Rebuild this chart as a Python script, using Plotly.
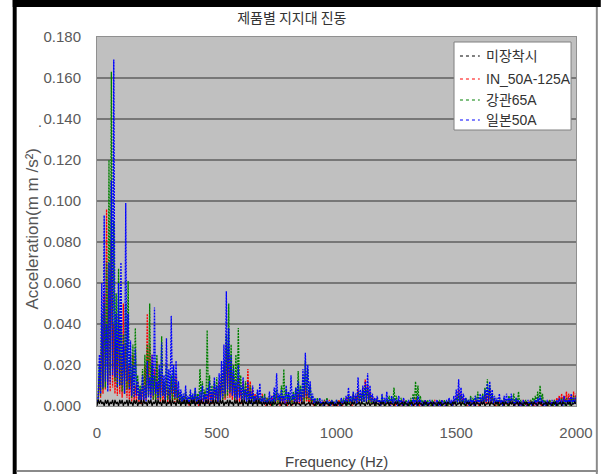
import numpy as np
import plotly.graph_objects as go

# Frequency axis: 0 .. 2000 Hz in 5 Hz bins
freq = np.arange(0, 2001, 5)

# Acceleration amplitudes in units of 0.001 mm/s^2 (one row = 100 Hz)
no_mount = [
    0, 3, 1, 3, 1, 2, 0, 3, 1, 3, 0, 2, 1, 3, 0, 3, 1, 2, 0, 3,
    1, 3, 0, 2, 1, 3, 0, 3, 1, 2, 0, 3, 1, 3, 0, 2, 1, 3, 0, 3,
    1, 2, 0, 3, 1, 3, 0, 2, 1, 3, 0, 3, 1, 2, 0, 3, 1, 3, 0, 2,
    1, 3, 0, 3, 1, 2, 0, 3, 1, 3, 0, 2, 1, 3, 0, 3, 1, 2, 0, 3,
    1, 3, 0, 2, 1, 3, 0, 3, 1, 2, 0, 3, 1, 3, 0, 2, 1, 3, 0, 3,
    1, 2, 0, 3, 1, 3, 0, 2, 1, 3, 0, 3, 1, 2, 0, 3, 1, 3, 0, 2,
    1, 3, 0, 3, 1, 2, 0, 3, 1, 3, 0, 2, 1, 3, 0, 3, 1, 2, 0, 2,
    1, 2, 0, 2, 1, 2, 0, 2, 1, 2, 0, 1, 1, 2, 0, 2, 1, 1, 0, 2,
    1, 2, 0, 1, 1, 2, 0, 2, 1, 1, 0, 2, 1, 2, 0, 1, 1, 2, 0, 2,
    1, 1, 0, 2, 1, 2, 0, 1, 1, 2, 0, 2, 1, 1, 0, 2, 1, 2, 0, 1,
    0, 2, 1, 2, 0, 1, 1, 2, 0, 2, 1, 1, 0, 2, 1, 2, 0, 1, 1, 2,
    0, 2, 1, 1, 0, 2, 1, 2, 0, 1, 1, 2, 0, 2, 1, 1, 0, 2, 1, 2,
    0, 1, 1, 2, 0, 2, 1, 1, 0, 2, 1, 2, 0, 1, 1, 2, 0, 2, 1, 1,
    0, 2, 1, 2, 0, 1, 1, 2, 0, 2, 1, 1, 0, 2, 1, 2, 0, 1, 1, 2,
    0, 2, 1, 1, 0, 2, 1, 2, 0, 1, 1, 2, 0, 2, 1, 1, 0, 2, 1, 2,
    0, 1, 1, 2, 0, 2, 1, 1, 0, 2, 1, 2, 0, 1, 1, 2, 0, 2, 1, 1,
    0, 2, 1, 2, 0, 1, 1, 2, 0, 2, 1, 1, 0, 2, 1, 2, 0, 1, 1, 2,
    0, 2, 1, 1, 0, 2, 1, 2, 0, 1, 1, 2, 0, 2, 1, 1, 0, 2, 1, 2,
    0, 1, 1, 2, 0, 2, 1, 1, 0, 2, 1, 2, 0, 1, 1, 2, 0, 2, 1, 1,
    0, 2, 1, 2, 0, 1, 1, 2, 0, 2, 1, 1, 0, 2, 1, 2, 0, 1, 1, 2,
    1,
]

in_50a_125a = [
    1, 3, 15, 4, 40, 6, 55, 8, 96, 10, 60, 7, 80, 9, 40, 6, 30, 5, 45, 6,
    25, 4, 50, 6, 30, 4, 20, 3, 15, 2, 25, 3, 10, 2, 12, 2, 8, 1, 10, 2,
    20, 3, 45, 5, 30, 4, 25, 3, 18, 3, 22, 3, 12, 2, 15, 2, 10, 2, 14, 2,
    8, 1, 12, 2, 10, 2, 15, 2, 7, 1, 5, 1, 4, 1, 6, 1, 3, 0, 5, 1,
    4, 1, 6, 1, 3, 0, 5, 1, 4, 1, 7, 1, 5, 1, 8, 1, 6, 1, 10, 2,
    7, 1, 12, 2, 15, 3, 20, 3, 30, 4, 25, 4, 20, 3, 15, 2, 10, 2, 14, 2,
    8, 1, 12, 2, 10, 2, 18, 3, 12, 2, 8, 1, 6, 1, 5, 1, 4, 1, 6, 1,
    3, 0, 4, 1, 3, 0, 5, 1, 4, 1, 6, 1, 3, 0, 5, 1, 4, 1, 3, 0,
    4, 1, 3, 0, 5, 1, 4, 1, 6, 1, 5, 1, 8, 1, 10, 2, 7, 1, 4, 1,
    3, 0, 2, 0, 3, 1, 2, 0, 2, 0, 3, 1, 2, 0, 3, 1, 2, 0, 2, 0,
    2, 0, 3, 1, 2, 0, 3, 1, 4, 1, 5, 1, 3, 0, 6, 1, 5, 1, 8, 1,
    6, 1, 9, 2, 13, 2, 10, 2, 7, 1, 5, 1, 3, 0, 4, 1, 2, 0, 3, 1,
    2, 0, 3, 1, 2, 0, 3, 1, 2, 0, 3, 1, 2, 0, 2, 0, 3, 1, 2, 0,
    2, 0, 3, 1, 2, 0, 4, 1, 3, 0, 2, 0, 2, 0, 3, 1, 2, 0, 2, 0,
    2, 0, 3, 1, 2, 0, 2, 0, 3, 1, 2, 0, 2, 0, 3, 1, 2, 0, 3, 1,
    5, 1, 8, 1, 6, 1, 4, 1, 3, 0, 2, 0, 3, 1, 2, 0, 3, 1, 2, 0,
    3, 1, 4, 1, 5, 1, 6, 1, 8, 1, 5, 1, 3, 0, 2, 0, 3, 1, 2, 0,
    3, 1, 2, 0, 3, 1, 4, 1, 2, 0, 3, 1, 2, 0, 2, 0, 3, 1, 2, 0,
    2, 0, 3, 1, 2, 0, 2, 0, 3, 1, 2, 0, 3, 1, 2, 0, 2, 0, 3, 1,
    2, 0, 3, 1, 4, 1, 5, 1, 6, 1, 5, 1, 7, 1, 6, 1, 5, 1, 7, 1,
    6,
]

steel_65a = [
    1, 3, 20, 5, 45, 8, 50, 9, 70, 12, 120, 15, 163, 18, 90, 12, 55, 9, 67, 10,
    40, 7, 35, 6, 50, 8, 61, 9, 25, 4, 30, 5, 38, 6, 15, 3, 10, 2, 18, 3,
    25, 4, 30, 5, 50, 6, 20, 3, 15, 2, 25, 4, 18, 3, 34, 5, 12, 2, 20, 3,
    10, 2, 15, 2, 18, 3, 12, 2, 8, 1, 6, 1, 5, 1, 7, 1, 4, 1, 6, 1,
    5, 1, 8, 1, 6, 1, 18, 3, 12, 2, 8, 1, 37, 5, 15, 2, 10, 2, 12, 2,
    14, 2, 10, 2, 16, 3, 22, 4, 35, 5, 50, 7, 30, 5, 20, 3, 25, 4, 38, 5,
    15, 2, 10, 2, 12, 2, 8, 1, 10, 2, 6, 1, 5, 1, 7, 1, 4, 1, 5, 1,
    6, 1, 4, 1, 5, 1, 3, 0, 6, 1, 8, 1, 5, 1, 10, 2, 18, 3, 8, 1,
    6, 1, 5, 1, 7, 1, 9, 2, 17, 3, 10, 2, 15, 2, 22, 3, 18, 3, 10, 2,
    5, 1, 3, 0, 4, 1, 3, 0, 2, 0, 3, 1, 4, 1, 2, 0, 3, 1, 2, 0,
    3, 1, 2, 0, 3, 1, 4, 1, 3, 0, 5, 1, 4, 1, 6, 1, 5, 1, 7, 1,
    6, 1, 8, 1, 10, 2, 9, 2, 6, 1, 4, 1, 3, 0, 4, 1, 3, 0, 5, 1,
    3, 0, 4, 1, 5, 1, 4, 1, 9, 2, 5, 1, 3, 0, 4, 1, 2, 0, 3, 1,
    2, 0, 4, 1, 6, 1, 12, 2, 10, 2, 5, 1, 3, 0, 2, 0, 3, 1, 2, 0,
    3, 1, 2, 0, 2, 0, 3, 1, 2, 0, 3, 1, 2, 0, 3, 1, 2, 0, 3, 1,
    4, 1, 6, 1, 5, 1, 3, 0, 4, 1, 3, 0, 5, 1, 4, 1, 5, 1, 7, 1,
    4, 1, 6, 1, 9, 2, 13, 2, 10, 2, 6, 1, 4, 1, 3, 0, 4, 1, 3, 0,
    4, 1, 3, 0, 5, 1, 4, 1, 6, 1, 4, 1, 7, 1, 3, 0, 2, 0, 3, 1,
    2, 0, 3, 1, 4, 1, 5, 1, 7, 1, 10, 2, 6, 1, 3, 0, 2, 0, 3, 1,
    2, 0, 3, 1, 2, 0, 3, 1, 4, 1, 3, 0, 4, 1, 3, 0, 4, 1, 5, 1,
    4,
]

japan_50a = [
    2, 4, 25, 6, 60, 9, 93, 12, 40, 7, 70, 11, 110, 15, 169, 14, 45, 9, 60, 10,
    70, 10, 30, 6, 99, 12, 45, 8, 32, 5, 20, 4, 28, 5, 12, 3, 8, 2, 15, 3,
    10, 2, 22, 4, 14, 3, 25, 5, 48, 6, 12, 3, 20, 4, 31, 5, 15, 3, 33, 5,
    18, 3, 44, 6, 20, 4, 22, 4, 12, 2, 8, 2, 6, 1, 10, 2, 5, 1, 8, 2,
    6, 1, 9, 2, 5, 1, 7, 2, 10, 2, 6, 1, 9, 2, 12, 2, 8, 2, 14, 3,
    10, 2, 16, 3, 22, 4, 30, 6, 56, 8, 38, 6, 25, 5, 18, 4, 12, 3, 20, 4,
    10, 2, 14, 3, 8, 2, 12, 2, 7, 1, 10, 2, 5, 1, 8, 2, 11, 2, 4, 1,
    5, 1, 3, 1, 7, 1, 5, 1, 9, 2, 16, 3, 6, 1, 8, 2, 5, 1, 10, 2,
    7, 1, 15, 3, 6, 1, 9, 2, 12, 2, 8, 2, 18, 4, 26, 5, 20, 4, 12, 3,
    6, 1, 4, 1, 3, 1, 4, 1, 3, 0, 2, 1, 3, 1, 2, 0, 3, 1, 2, 0,
    3, 1, 2, 0, 4, 1, 3, 1, 5, 1, 9, 2, 5, 1, 7, 1, 6, 1, 14, 2,
    8, 2, 10, 2, 12, 2, 16, 3, 10, 2, 6, 1, 4, 1, 5, 1, 3, 0, 6, 1,
    4, 1, 7, 1, 3, 0, 5, 1, 4, 1, 3, 0, 5, 1, 3, 0, 4, 1, 2, 0,
    3, 1, 2, 0, 4, 1, 3, 0, 5, 1, 3, 0, 2, 0, 3, 1, 2, 0, 3, 1,
    2, 0, 2, 1, 3, 0, 2, 0, 3, 1, 2, 0, 3, 1, 4, 1, 3, 0, 5, 1,
    8, 1, 13, 2, 9, 2, 6, 1, 4, 1, 3, 0, 4, 1, 3, 0, 5, 1, 4, 1,
    6, 1, 5, 1, 8, 2, 11, 2, 12, 2, 8, 1, 5, 1, 4, 1, 6, 1, 3, 0,
    5, 1, 6, 1, 4, 1, 6, 1, 3, 0, 4, 1, 3, 0, 2, 0, 3, 1, 2, 0,
    3, 1, 2, 0, 2, 1, 3, 0, 4, 1, 5, 1, 3, 0, 2, 0, 3, 1, 2, 0,
    3, 1, 2, 0, 3, 1, 4, 1, 3, 0, 5, 1, 3, 1, 4, 1, 6, 1, 4, 1,
    5,
]

series_names = ["미장착시", "IN_50A-125A", "강관65A", "일본50A"]
series_colors = ["#000000", "#ff0000", "#008000", "#0000ff"]
series_values = [no_mount, in_50a_125a, steel_65a, japan_50a]
# stroke per series: the dense unmounted baseline reads as a solid band
series_lines = [
    dict(width=1.2, dash="solid"),
    dict(width=1.3, dash="2px,1px"),
    dict(width=1.3, dash="2px,1px"),
    dict(width=1.3, dash="2px,1px"),
]

y_ticks = [0.000, 0.020, 0.040, 0.060, 0.080, 0.100, 0.120, 0.140, 0.160, 0.180]
x_ticks = [0, 500, 1000, 1500, 2000]

# page geometry (px)
W, H = 605, 474
ML, MR, MT, MB = 97, 25, 37, 68
PW, PH = W - ML - MR, H - MT - MB


def px(xp):
    return (xp - ML) / PW


def py(yp):
    return (H - MB - yp) / PH


fig = go.Figure()

# coloured series first, the unmounted baseline on top
for k in [1, 2, 3, 0]:
    fig.add_trace(go.Scatter(
        x=freq,
        y=np.array(series_values[k]) / 1000.0,
        mode="lines",
        name=series_names[k],
        showlegend=False,
        line=dict(color=series_colors[k], **series_lines[k]),
        hoverinfo="skip",
    ))

shapes = []

# outer frame of the picture
frame = [
    (12, W, 0, 7, "#000000"),
    (12, 16, 0, H, "#000000"),
    (600, 602, 7, H, "#8a8a8a"),
    (16, 602, 470, 472, "#8a8a8a"),
]
for x0, x1, y0, y1, c in frame:
    shapes.append(dict(type="rect", xref="paper", yref="paper",
                       x0=px(x0), x1=px(x1), y0=py(y0), y1=py(y1),
                       fillcolor=c, line=dict(width=0), layer="above"))

# legend box with short dotted samples
LX0, LX1, LY0, LY1 = 457, 575, 42, 130
row_y = [56, 79, 100, 120]
shapes.append(dict(type="rect", xref="paper", yref="paper",
                   x0=px(LX0), x1=px(LX1), y0=py(LY0), y1=py(LY1),
                   fillcolor="#ffffff", line=dict(color="#808080", width=1),
                   layer="above"))
annotations = []
for name, color, ry in zip(series_names, series_colors, row_y):
    shapes.append(dict(type="line", xref="paper", yref="paper",
                       x0=px(463), x1=px(483), y0=py(ry), y1=py(ry),
                       line=dict(color=color, width=1, dash="dot"),
                       layer="above"))
    annotations.append(dict(text=name, xref="paper", yref="paper",
                            x=px(487), y=py(ry), xanchor="left", yanchor="middle",
                            showarrow=False,
                            font=dict(size=14, color="#333333",
                                      family="Liberation Sans, Noto Sans CJK KR")))

# axis titles
annotations.append(dict(text="Frequency (Hz)", xref="paper", yref="paper",
                        x=px(338), y=py(461), xanchor="center", yanchor="middle",
                        showarrow=False,
                        font=dict(size=15, color="#444444")))
annotations.append(dict(text="Acceleration(m m /s²)", xref="paper", yref="paper",
                        x=px(32), y=py(229), xanchor="center", yanchor="middle",
                        textangle=-90, showarrow=False,
                        font=dict(size=17, color="#555555")))
annotations.append(dict(text=".", xref="paper", yref="paper", x=px(35), y=py(112),
                        showarrow=False, font=dict(size=14, color="#555555")))

fig.update_layout(
    width=W, height=H,
    margin=dict(l=ML, r=MR, t=MT, b=MB),
    paper_bgcolor="#ffffff",
    plot_bgcolor="#c0c0c0",
    font=dict(family="Liberation Sans, Arial, Noto Sans CJK KR", color="#555555"),
    title=dict(text="제품별 지지대 진동", x=px(330), xanchor="center",
               y=1 - 18 / H, yanchor="middle",
               font=dict(size=14, color="#333333",
                         family="Noto Sans CJK KR, Liberation Sans")),
    showlegend=False,
    shapes=shapes,
    annotations=annotations,
    xaxis=dict(range=[0, 2000], tickvals=x_ticks,
               ticktext=[str(v) for v in x_ticks],
               showgrid=False, zeroline=False,
               showline=True, linecolor="#909090", linewidth=1, mirror=True,
               ticks="", ticklabelstandoff=13,
               tickfont=dict(size=15, color="#5a5a5a")),
    yaxis=dict(range=[0, 0.18], tickvals=y_ticks,
               ticktext=[f"{v:.3f}" for v in y_ticks],
               showgrid=True, gridcolor="#777777", gridwidth=2,
               zeroline=False,
               showline=True, linecolor="#909090", linewidth=1, mirror=True,
               ticks="", ticklabelstandoff=12,
               tickfont=dict(size=15, color="#5a5a5a")),
)

fig.write_html("out.html")
